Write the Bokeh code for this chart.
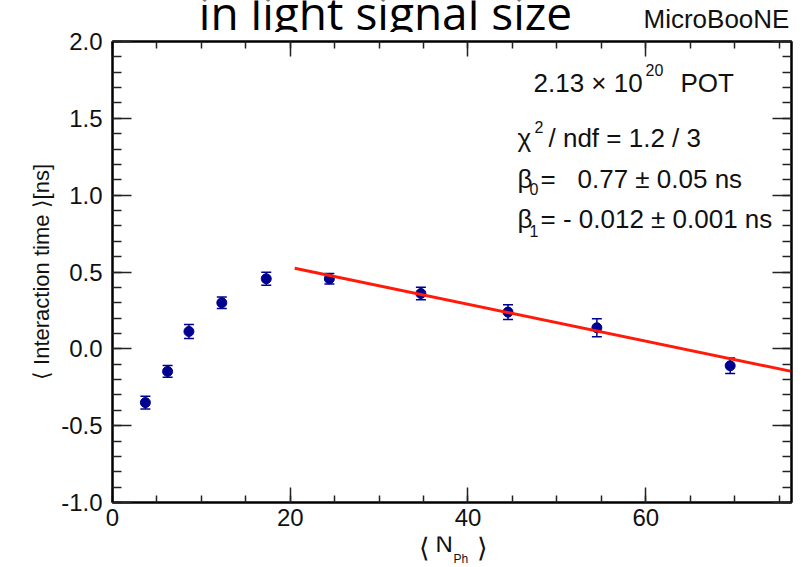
from bokeh.plotting import figure
from bokeh.layouts import column
from bokeh.models import (Label, LinearAxis, SingleIntervalTicker, Range1d,
                          ColumnDataSource, Whisker, TeeHead, NumeralTickFormatter,
                          CustomJSTickFormatter)
from bokeh.core.properties import value
from bokeh.embed import file_html
from bokeh.resources import INLINE

# ---- data ----
n_ph = [3.7, 6.2, 8.6, 12.3, 17.3, 24.4, 34.7, 44.5, 54.5, 69.5]
t_mean = [-0.35, -0.147, 0.113, 0.30, 0.456, 0.456, 0.36, 0.239, 0.137, -0.11]
t_err = [0.042, 0.038, 0.046, 0.037, 0.042, 0.034, 0.04, 0.048, 0.058, 0.05]
beta0 = 0.77
beta1 = -0.012
fit_range = [20.5, 76.4]
x_lim = [0, 76.4]
y_lim = [-1.0, 2.0]

W, H = 810, 567
HEAD_H = 32          # page rows above the main canvas
TOP_PAD = 9          # main canvas border above the frame
FRAME_H = 461
FL, FR, FB = 112, 19, 34
MAIN_H = TOP_PAD + FRAME_H + FB
FOOT_H = H - HEAD_H - MAIN_H
FRAME_BOTTOM = HEAD_H + TOP_PAD + FRAME_H  # page pixels (502)
SHIFT = 10           # baseline correction for rendered text


def text_panel(y0, h):
    f = figure(width=W, height=h, output_backend="svg", toolbar_location=None,
               x_range=Range1d(FL, W - FR), y_range=Range1d(y0 + h, y0),
               x_axis_type=None, y_axis_type=None, min_border=0,
               min_border_left=FL, min_border_right=FR)
    f.grid.visible = False
    f.outline_line_color = None
    f.border_fill_color = "white"
    f.background_fill_color = "white"
    return f


def ptext(f, txt, cx, cy, size, align="left", font="Liberation Sans",
          color="#111111", shift=SHIFT):
    f.text(x=[cx], y=[cy - shift], text=[txt], text_font=value(font),
           text_font_size=value(f"{size}px"), text_align=align,
           text_baseline="alphabetic", text_color=color)


# ---- header (title cut at the top, experiment tag) ----
head = text_panel(0, HEAD_H)
ptext(head, "in light signal size", 385, 23, 46, align="center",
      font="Open Sans", color="#000000", shift=12)
ptext(head, "MicroBooNE", 643, 28, 26)

# ---- main plot ----
p = figure(width=W, height=MAIN_H, output_backend="svg", toolbar_location=None,
           x_range=Range1d(*x_lim), y_range=Range1d(*y_lim),
           min_border_left=FL, min_border_right=FR, min_border_top=TOP_PAD,
           min_border_bottom=FB)
p.grid.visible = False
p.outline_line_color = "black"
p.outline_line_width = 2
p.background_fill_color = "white"
p.border_fill_color = "white"

xt = SingleIntervalTicker(interval=20, num_minor_ticks=4)
yt = SingleIntervalTicker(interval=0.5, num_minor_ticks=5)


def style_axis(ax, is_x, show_labels):
    ax.ticker = xt if is_x else yt
    ax.axis_line_color = "black"
    ax.axis_line_width = 2
    ax.major_tick_out = 0
    ax.minor_tick_out = 0
    ax.major_tick_in = 15 if is_x else 19
    ax.minor_tick_in = 7 if is_x else 9
    ax.major_tick_line_color = "#222222"
    ax.minor_tick_line_color = "#222222"
    ax.major_tick_line_width = 1.5
    ax.minor_tick_line_width = 1.5
    if show_labels:
        ax.major_label_text_font = "Liberation Sans"
        ax.major_label_text_font_size = "24px"
        ax.major_label_text_color = "#111111"
        ax.major_label_standoff = 6 if is_x else 10
        if not is_x:
            ax.formatter = NumeralTickFormatter(format="0.0")
    else:
        ax.formatter = CustomJSTickFormatter(code="return ''")
        ax.major_label_text_font_size = "0px"
        ax.major_label_standoff = 0


style_axis(p.xaxis[0], True, True)
style_axis(p.yaxis[0], False, True)
p.yaxis[0].axis_label = "⟨ Interaction time ⟩[ns]"
p.yaxis[0].axis_label_text_font = "Liberation Sans"
p.yaxis[0].axis_label_text_font_size = "22px"
p.yaxis[0].axis_label_text_font_style = "normal"
p.yaxis[0].axis_label_text_color = "#111111"
p.yaxis[0].axis_label_standoff = 4
top = LinearAxis()
style_axis(top, True, False)
p.add_layout(top, "above")
right = LinearAxis()
style_axis(right, False, False)
p.add_layout(right, "right")

# error bars and points
src = ColumnDataSource(dict(x=n_ph, y=t_mean,
                            lo=[m - e for m, e in zip(t_mean, t_err)],
                            hi=[m + e for m, e in zip(t_mean, t_err)]))
blue = "#000090"
wh = Whisker(source=src, base="x", lower="lo", upper="hi",
             line_color=blue, line_width=1.5,
             lower_head=TeeHead(size=10, line_color=blue, line_width=1.5),
             upper_head=TeeHead(size=10, line_color=blue, line_width=1.5))
p.add_layout(wh)
p.scatter("x", "y", source=src, size=10, color=blue)

# fit line
fx = fit_range
fy = [beta0 + beta1 * x for x in fx]
p.line(fx, fy, line_color="#ff1a0a", line_width=3)


def lab(text, cx, cy, size, align="left", font="Liberation Sans"):
    p.add_layout(Label(x=cx - FL, y=FRAME_BOTTOM - (cy - SHIFT),
                       x_units="screen", y_units="screen", text=text,
                       text_font=font, text_font_size=f"{size}px",
                       text_align=align, text_baseline="alphabetic",
                       text_color="#111111"))


lab("2.13 × 10", 533, 92, 26)
lab("20", 645, 79, 16)
lab("POT", 680, 92, 26)
lab("χ", 517, 147, 26)
lab("2", 534, 136, 16)
lab("/ ndf = 1.2 / 3", 548, 147, 26)
lab("β", 517, 188, 26)
lab("0", 529, 198, 16)
lab("=", 540, 188, 26)
lab("0.77 ± 0.05 ns", 577, 188, 26)
lab("β", 517, 228, 26)
lab("1", 529, 240, 16)
lab("= - 0.012 ± 0.001 ns", 540, 228, 26)

# ---- footer: x axis title ----
foot = text_panel(HEAD_H + MAIN_H, FOOT_H)
ptext(foot, "⟨", 418, 557, 27)
ptext(foot, "N", 435, 553, 24)
ptext(foot, "Ph", 453, 565, 12, shift=7)
ptext(foot, "⟩", 476, 557, 27)

layout = column(head, p, foot, spacing=0)
open("out.html", "w").write(file_html(layout, INLINE))
